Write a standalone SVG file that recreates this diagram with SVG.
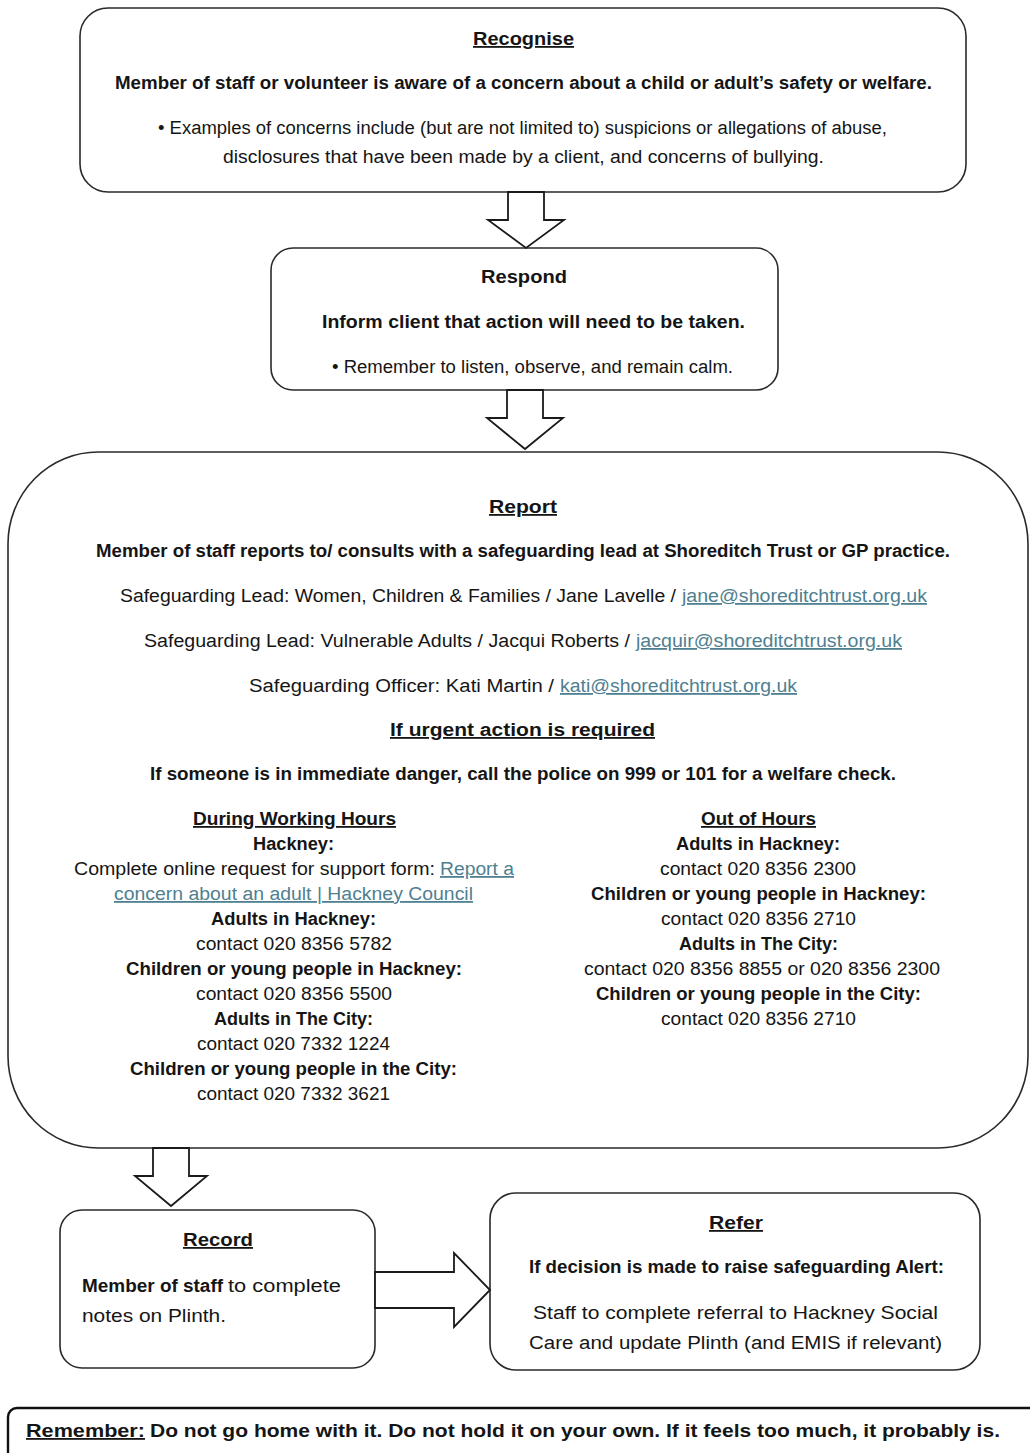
<svg xmlns="http://www.w3.org/2000/svg" width="1030" height="1453" viewBox="0 0 1030 1453">
<style>
text{font-family:"Liberation Sans Narrow","Liberation Sans",Arial,sans-serif;font-size:18px;fill:#151515}
.b{font-weight:bold}
.u{text-decoration:underline}
.l{fill:#4f7f90;text-decoration:underline}
.box{fill:#fff;stroke:#2a2a2a;stroke-width:1.6}
.arr{fill:#fff;stroke:#1a1a1a;stroke-width:1.8;stroke-linejoin:miter}
</style>
<rect width="1030" height="1453" fill="#fff"/>

<g id="recognise">
<rect class="box" x="80" y="8" width="886" height="184" rx="28"/>
<text class="b u" x="473" y="45" textLength="101" lengthAdjust="spacingAndGlyphs">Recognise</text>
<text class="b" x="115" y="89" textLength="817" lengthAdjust="spacingAndGlyphs">Member of staff or volunteer is aware of a concern about a child or adult’s safety or welfare.</text>
<text x="158" y="134" textLength="729" lengthAdjust="spacingAndGlyphs">• Examples of concerns include (but are not limited to) suspicions or allegations of abuse,</text>
<text x="223" y="163" textLength="601" lengthAdjust="spacingAndGlyphs">disclosures that have been made by a client, and concerns of bullying.</text>
</g>

<g id="respond">
<rect class="box" x="271" y="248" width="507" height="142" rx="22"/>
<text class="b" x="481" y="283" textLength="86" lengthAdjust="spacingAndGlyphs">Respond</text>
<text class="b" x="322" y="328" textLength="423" lengthAdjust="spacingAndGlyphs">Inform client that action will need to be taken.</text>
<text x="332" y="373" textLength="401" lengthAdjust="spacingAndGlyphs">• Remember to listen, observe, and remain calm.</text>
</g>

<g id="report">
<path class="box" d="M 98 452 H 938 A 90 92 0 0 1 1028 544 V 1056 A 90 92 0 0 1 938 1148 H 98 A 90 92 0 0 1 8 1056 V 544 A 90 92 0 0 1 98 452 Z"/>
<text class="b u" x="489" y="513" textLength="68" lengthAdjust="spacingAndGlyphs">Report</text>
<text class="b" x="96" y="557" textLength="854" lengthAdjust="spacingAndGlyphs">Member of staff reports to/ consults with a safeguarding lead at Shoreditch Trust or GP practice.</text>
<text x="120" y="602" textLength="556" lengthAdjust="spacingAndGlyphs">Safeguarding Lead: Women, Children &amp; Families / Jane Lavelle /</text>
<text class="l" x="682" y="602" textLength="245" lengthAdjust="spacingAndGlyphs">jane@shoreditchtrust.org.uk</text>
<text x="144" y="647" textLength="486" lengthAdjust="spacingAndGlyphs">Safeguarding Lead: Vulnerable Adults / Jacqui Roberts /</text>
<text class="l" x="636" y="647" textLength="266" lengthAdjust="spacingAndGlyphs">jacquir@shoreditchtrust.org.uk</text>
<text x="249" y="692" textLength="305" lengthAdjust="spacingAndGlyphs">Safeguarding Officer: Kati Martin /</text>
<text class="l" x="560" y="692" textLength="237" lengthAdjust="spacingAndGlyphs">kati@shoreditchtrust.org.uk</text>
<text class="b u" x="390" y="736" textLength="265" lengthAdjust="spacingAndGlyphs">If urgent action is required</text>
<text class="b" x="150" y="780" textLength="746" lengthAdjust="spacingAndGlyphs">If someone is in immediate danger, call the police on 999 or 101 for a welfare check.</text>

<text class="b u" x="193" y="825" textLength="203" lengthAdjust="spacingAndGlyphs">During Working Hours</text>
<text class="b" x="253" y="850" textLength="81" lengthAdjust="spacingAndGlyphs">Hackney:</text>
<text x="74" y="875" textLength="361" lengthAdjust="spacingAndGlyphs">Complete online request for support form:</text>
<text class="l" x="440" y="875" textLength="74" lengthAdjust="spacingAndGlyphs">Report a</text>
<text class="l" x="114" y="900" textLength="359" lengthAdjust="spacingAndGlyphs">concern about an adult | Hackney Council</text>
<text class="b" x="211" y="925" textLength="165" lengthAdjust="spacingAndGlyphs">Adults in Hackney:</text>
<text x="196" y="950" textLength="196" lengthAdjust="spacingAndGlyphs">contact 020 8356 5782</text>
<text class="b" x="126" y="975" textLength="336" lengthAdjust="spacingAndGlyphs">Children or young people in Hackney:</text>
<text x="196" y="1000" textLength="196" lengthAdjust="spacingAndGlyphs">contact 020 8356 5500</text>
<text class="b" x="214" y="1025" textLength="159" lengthAdjust="spacingAndGlyphs">Adults in The City:</text>
<text x="197" y="1050" textLength="193" lengthAdjust="spacingAndGlyphs">contact 020 7332 1224</text>
<text class="b" x="130" y="1075" textLength="327" lengthAdjust="spacingAndGlyphs">Children or young people in the City:</text>
<text x="197" y="1100" textLength="193" lengthAdjust="spacingAndGlyphs">contact 020 7332 3621</text>

<text class="b u" x="701" y="825" textLength="115" lengthAdjust="spacingAndGlyphs">Out of Hours</text>
<text class="b" x="676" y="850" textLength="164" lengthAdjust="spacingAndGlyphs">Adults in Hackney:</text>
<text x="660" y="875" textLength="196" lengthAdjust="spacingAndGlyphs">contact 020 8356 2300</text>
<text class="b" x="591" y="900" textLength="335" lengthAdjust="spacingAndGlyphs">Children or young people in Hackney:</text>
<text x="661" y="925" textLength="195" lengthAdjust="spacingAndGlyphs">contact 020 8356 2710</text>
<text class="b" x="679" y="950" textLength="159" lengthAdjust="spacingAndGlyphs">Adults in The City:</text>
<text x="584" y="975" textLength="356" lengthAdjust="spacingAndGlyphs">contact 020 8356 8855 or 020 8356 2300</text>
<text class="b" x="596" y="1000" textLength="325" lengthAdjust="spacingAndGlyphs">Children or young people in the City:</text>
<text x="661" y="1025" textLength="195" lengthAdjust="spacingAndGlyphs">contact 020 8356 2710</text>
</g>

<g id="record">
<rect class="box" x="60" y="1210" width="315" height="158" rx="22"/>
<text class="b u" x="183" y="1246" textLength="70" lengthAdjust="spacingAndGlyphs">Record</text>
<text class="b" x="82" y="1292" textLength="141" lengthAdjust="spacingAndGlyphs">Member of staff</text>
<text x="228" y="1292" textLength="113" lengthAdjust="spacingAndGlyphs">to complete</text>
<text x="82" y="1322" textLength="144" lengthAdjust="spacingAndGlyphs">notes on Plinth.</text>
</g>

<g id="refer">
<rect class="box" x="490" y="1193" width="490" height="177" rx="26"/>
<text class="b u" x="709" y="1229" textLength="54" lengthAdjust="spacingAndGlyphs">Refer</text>
<text class="b" x="529" y="1273" textLength="415" lengthAdjust="spacingAndGlyphs">If decision is made to raise safeguarding Alert:</text>
<text x="533" y="1319" textLength="405" lengthAdjust="spacingAndGlyphs">Staff to complete referral to Hackney Social</text>
<text x="529" y="1349" textLength="413" lengthAdjust="spacingAndGlyphs">Care and update Plinth (and EMIS if relevant)</text>
</g>

<g id="remember">
<rect x="8" y="1408" width="1040" height="60" rx="9" fill="#fff" stroke="#111" stroke-width="2.4"/>
<text class="b u" x="26" y="1437" textLength="119" lengthAdjust="spacingAndGlyphs">Remember:</text>
<text class="b" x="150" y="1437" textLength="850" lengthAdjust="spacingAndGlyphs">Do not go home with it. Do not hold it on your own. If it feels too much, it probably is.</text>
</g>

<g id="connectors">
<polygon class="arr" points="508,192 544,192 544,220 564,220 526,248 488,220 508,220"/>
<polygon class="arr" points="507,390 543,390 543,418 563,418 525,449 487,418 507,418"/>
<polygon class="arr" points="153,1148 189,1148 189,1176 207,1176 171,1206 135,1176 153,1176"/>
<polygon class="arr" points="375,1272 454,1272 454,1253 490,1290 454,1327 454,1308 375,1308"/>
</g>
</svg>
